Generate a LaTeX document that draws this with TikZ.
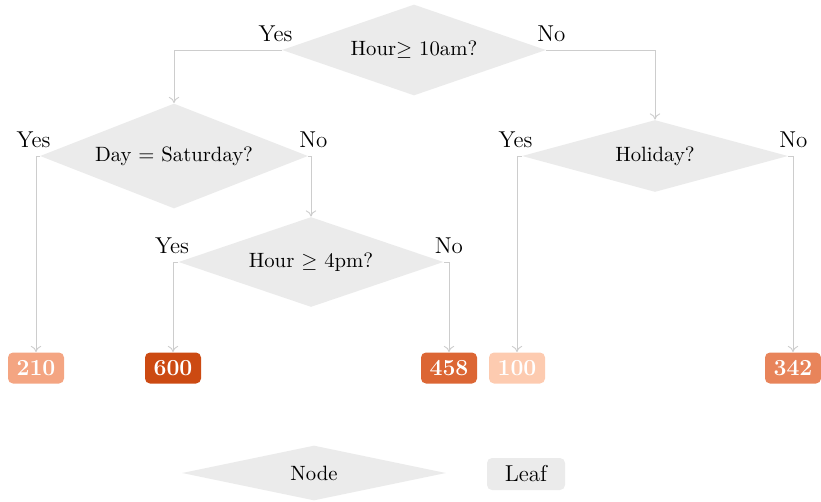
\documentclass[tikz,border=0pt]{standalone}
\usetikzlibrary{shapes.geometric,arrows.meta}
\def\pxu{0.483pt}
\definecolor{dgray}{HTML}{EBEBEB}
\definecolor{lgray}{HTML}{CDCDCD}
\definecolor{c210}{HTML}{F4A582}
\definecolor{c600}{HTML}{CC4A12}
\definecolor{c458}{HTML}{DC6634}
\definecolor{c100}{HTML}{FDCBB0}
\definecolor{c342}{HTML}{E8845A}
\newcommand\bigtext{\fontsize{11.1}{13}\selectfont}
\begin{document}
\begin{tikzpicture}[x=\pxu,y=-\pxu,
  decision/.style n args={3}{diamond,fill=dgray,inner sep=0pt,aspect=#3,
     minimum width=#1*\pxu,minimum height=#2*\pxu},
  leaf/.style={fill=#1,rounded corners=2.4pt,text=white,font=\bigtext\bfseries,
     minimum width=56*\pxu,minimum height=31*\pxu,inner sep=0pt},
  edge/.style={draw=lgray,line width=0.45pt,-{To[length=3pt,width=5pt]}},
  lbl/.style={anchor=base,inner sep=0pt,font=\bigtext}]
\useasboundingbox (0,0) rectangle (821,501);
% decisions
\node[decision={264}{91}{2.9}] (root) at (414,50) {Hour$\geq$ 10am?};
\node[decision={268}{105}{2.55}] (day) at (174,156) {Day = Saturday?};
\node[decision={265}{90}{2.9}] (h4) at (311,262) {Hour $\geq$ 4pm?};
\node[decision={266}{72}{3.7}] (hol) at (655,156) {Holiday?};
% leaves
\node[leaf=c210] (l210) at (36,368) {210};
\node[leaf=c600] (l600) at (173,368) {600};
\node[leaf=c458] (l458) at (449,368) {458};
\node[leaf=c100] (l100) at (517,368) {100};
\node[leaf=c342] (l342) at (793,368) {342};
% edges
\draw[edge] (root.west) -| (day.north);
\draw[edge] (root.east) -| (hol.north);
\draw[edge] (day.west) -| (l210.north);
\draw[edge] (day.east) -| (h4.north);
\draw[edge] (h4.west) -| (l600.north);
\draw[edge] (h4.east) -| (l458.north);
\draw[edge] (hol.west) -| (l100.north);
\draw[edge] (hol.east) -| (l342.north);
% labels
\foreach \n in {root,day,h4,hol}{
  \node[lbl,xshift=-6*\pxu,yshift=9*\pxu] (\n-yes) at (\n.west) {Yes};
  \node[lbl,xshift=5*\pxu,yshift=9*\pxu] (\n-no) at (\n.east) {No};
}
% legend
\node[decision={264}{55}{4.8}] (legnode) at (314,473) {Node};
\node[fill=dgray,rounded corners=2.4pt,minimum width=78*\pxu,minimum height=32*\pxu,inner sep=0pt,font=\bigtext] (legleaf) at (526,474) {Leaf};
\end{tikzpicture}
\end{document}
